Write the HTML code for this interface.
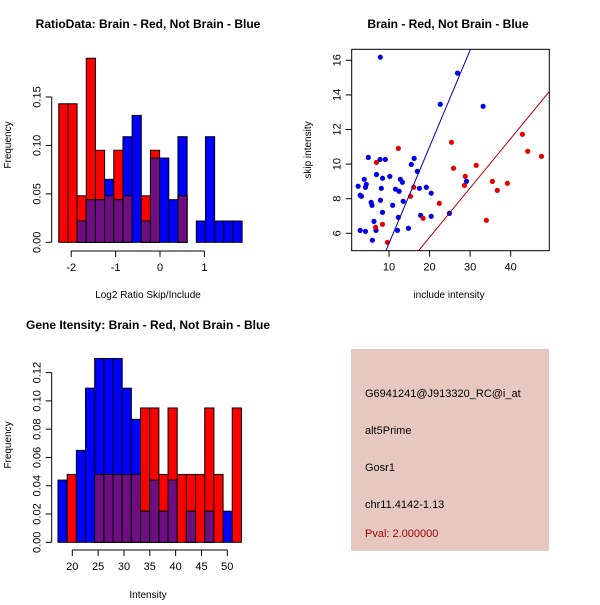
<!DOCTYPE html>
<html><head><meta charset="utf-8"><style>
body{margin:0;background:#fff;}
svg text{font-family:"Liberation Sans",sans-serif;}
</style></head><body>
<svg id="svg" width="600" height="600" xmlns="http://www.w3.org/2000/svg">
<rect width="600" height="600" fill="#fff"/>
<text x="148" y="28" font-size="12" font-weight="bold" text-anchor="middle">RatioData: Brain - Red, Not Brain - Blue</text>
<text x="448" y="28" font-size="12" font-weight="bold" text-anchor="middle">Brain - Red, Not Brain - Blue</text>
<text x="148" y="329" font-size="12" font-weight="bold" text-anchor="middle">Gene Itensity: Brain - Red, Not Brain - Blue</text>
<g id="p1"></g>
<g id="p2"></g>
<g id="p3"></g>
<g>
<rect x="351" y="349" width="198" height="202" fill="#e6c8c1"/>
<text x="365" y="397" font-size="11">G6941241@J913320_RC@i_at</text>
<text x="365" y="434" font-size="11">alt5Prime</text>
<text x="365" y="471" font-size="11">Gosr1</text>
<text x="365" y="508" font-size="11">chr11.4142-1.13</text>
<text x="365" y="537" font-size="11" fill="#a00000">Pval: 2.000000</text>
</g>
</svg>
<script>
// Ratio histogram data
const ratioBinStart = -2.28;
const ratioBinWidth = 0.2065;
const ratioRed  = [0.143,0.143,0.048,0.19,0.095,0.048,0.095,0.048,0,0.048,0.095,0,0,0.048,0,0,0,0,0,0];
const ratioBlue = [0,0,0.022,0.044,0.044,0.065,0.044,0.109,0.131,0.022,0.087,0.087,0.044,0.109,0,0.022,0.109,0.022,0.022,0.022];
const ratioXTicks = [-2,-1,0,1];
const ratioYTicks = ["0.00","0.05","0.10","0.15"];
// Intensity histogram data
const intBinStart = 17.23;
const intBinWidth = 1.775;
const intRed  = [0,0.048,0,0,0.048,0.048,0.048,0.048,0.048,0.095,0.095,0.048,0.095,0.048,0.048,0.048,0.095,0.048,0,0.095];
const intBlue = [0.044,0,0.065,0.109,0.13,0.13,0.13,0.109,0.087,0.022,0.044,0.022,0.044,0,0.022,0,0.022,0,0.022,0];
const intXTicks = [20,25,30,35,40,45,50];
const intYTicks = ["0.00","0.02","0.04","0.06","0.08","0.10","0.12"];
// Scatter data
const blueX = [7.86,26.9,22.65,33.2,4.9,7.8,9.1,16.2,15.5,16.98,6.9,10.2,3.9,8.4,12.8,13.3,4.4,4.2,2.4,8.1,11.6,12.5,17.5,19.2,20.4,2.9,3.2,7.9,5.6,5.8,10.9,13.5,8.4,17.8,20.4,12.3,24.9,29.1,6.3,6.8,2.9,4.2,12.1,14.8,5.9];
const blueY = [16.18,15.26,13.46,13.34,10.39,10.27,10.27,10.33,9.98,9.58,9.40,9.29,9.12,9.18,9.12,8.95,8.83,8.66,8.72,8.60,8.55,8.43,8.60,8.66,8.32,8.20,8.14,7.91,7.79,7.62,7.62,7.85,7.21,7.04,6.98,6.92,7.15,9.0,6.69,6.17,6.17,6.11,6.17,6.29,5.60];
const redX = [12.3,6.9,25.4,25.9,31.5,28.8,28.6,35.5,36.7,39.2,42.9,44.2,47.6,16.1,15.3,22.4,18.4,34.0,8.4,6.7,9.6];
const redY = [10.91,10.10,11.26,9.76,9.93,9.29,8.77,9.0,8.48,8.89,11.72,10.74,10.45,8.66,8.14,7.73,6.87,6.75,6.52,6.35,5.48];
const blueFit = [-0.17,0.5586];
const redFit = [0.06,0.2854];
const scXTicks = [10,20,30,40];
const scYTicks = [6,8,10,12,14,16];

const NS="http://www.w3.org/2000/svg";
function mk(parent,tag,attrs){const e=document.createElementNS(NS,tag);for(const k in attrs)e.setAttribute(k,attrs[k]);parent.appendChild(e);return e;}

function hist(g,opt){
  const sx=v=>opt.x0px+(v-opt.x0)*opt.kx;
  const sy=v=>opt.base-v*opt.ky;
  const n=opt.red.length;
  for(let i=0;i<n;i++){
    const a=opt.bs+i*opt.bw, b=a+opt.bw;
    const x=sx(a), w=sx(b)-sx(a);
    const r=opt.red[i], bl=opt.blue[i], m=Math.min(r,bl);
    if(r>0){const e=mk(g,'rect',{x:x,y:sy(r),width:w,height:sy(0)-sy(r),fill:'#ff0000',stroke:'#000','stroke-width':1});
      
      }
    if(bl>0){const e=mk(g,'rect',{x:x,y:sy(bl),width:w,height:sy(0)-sy(bl),fill:'#0000ff',stroke:'#000','stroke-width':1});
      
      }
    if(m>0){const e=mk(g,'rect',{x:x,y:sy(m),width:w,height:sy(0)-sy(m),fill:'#6e0e82',stroke:'#000','stroke-width':1});
      
      }
  }
  // y axis
  const yt=opt.yticks.map(Number);
  mk(g,'line',{x1:opt.yax,x2:opt.yax,y1:sy(yt[0]),y2:sy(yt[yt.length-1]),stroke:'#000'});
  opt.yticks.forEach(t=>{const y=sy(Number(t));
    mk(g,'line',{x1:opt.yax-6,x2:opt.yax,y1:y,y2:y,stroke:'#000'});
    const tx=mk(g,'text',{x:0,y:0,'font-size':11,'text-anchor':'middle',transform:`translate(${opt.yax-11},${y}) rotate(-90)`});
    tx.textContent=t;
    
    
  });
  // x axis
  const xt=opt.xticks;
  mk(g,'line',{x1:sx(xt[0]),x2:sx(xt[xt.length-1]),y1:opt.xax,y2:opt.xax,stroke:'#000'});
  xt.forEach(t=>{const x=sx(t);
    mk(g,'line',{x1:x,x2:x,y1:opt.xax,y2:opt.xax+6,stroke:'#000'});
    const tx=mk(g,'text',{x:x,y:opt.xax+20,'font-size':11,'text-anchor':'middle'});
    tx.textContent=t;
    
    
  });
  const xl=mk(g,'text',{x:opt.xlx,y:opt.xly,'font-size':10,'text-anchor':'middle'});xl.textContent=opt.xlabel;
  
  
  const yl=mk(g,'text',{x:0,y:0,'font-size':10,'text-anchor':'middle',transform:`translate(11,${opt.yly}) rotate(-90)`});yl.textContent='Frequency';
  
  
}

hist(document.getElementById('p1'),{red:ratioRed,blue:ratioBlue,bs:ratioBinStart,bw:ratioBinWidth,
  x0:0,x0px:160,kx:44.4,base:242.3,ky:968.7,yax:51.7,xax:251,xticks:ratioXTicks,yticks:ratioYTicks,
  xlabel:'Log2 Ratio Skip/Include',xlx:148,xly:298,yly:145});
hist(document.getElementById('p3'),{red:intRed,blue:intBlue,bs:intBinStart,bw:intBinWidth,
  x0:20,x0px:72.3,kx:5.167,base:542.3,ky:1414,yax:51.7,xax:550,xticks:intXTicks,yticks:intYTicks,
  xlabel:'Intensity',xlx:148,xly:598,yly:445});

// scatter
(function(){
  const g=document.getElementById('p2');
  const L=351.7,R=549.3,T=49.3,B=250.7;
  const sx=v=>389+(v-10)*4.056;
  const sy=v=>60.3+(16-v)*17.3;
  const clip=mk(g,'clipPath',{id:'sc'});mk(clip,'rect',{x:L,y:T,width:R-L,height:B-T});
  const pts=mk(g,'g',{'clip-path':'url(#sc)'});
  blueX.forEach((x,i)=>{const c=mk(pts,'circle',{cx:sx(x),cy:sy(blueY[i]),r:2.6,fill:'#0000e6'});
    
    });
  redX.forEach((x,i)=>{const c=mk(pts,'circle',{cx:sx(x),cy:sy(redY[i]),r:2.6,fill:'#e60000'});
    
    });
  const xa=0,xb=60;
  const bl=mk(pts,'line',{x1:sx(xa),y1:sy(blueFit[0]+blueFit[1]*xa),x2:sx(xb),y2:sy(blueFit[0]+blueFit[1]*xb),stroke:'#0000b0'});
  
  
  const rl=mk(pts,'line',{x1:sx(xa),y1:sy(redFit[0]+redFit[1]*xa),x2:sx(xb),y2:sy(redFit[0]+redFit[1]*xb),stroke:'#b00000'});
  
  
  mk(g,'rect',{x:L,y:T,width:R-L,height:B-T,fill:'none',stroke:'#000'});
  scXTicks.forEach(t=>{const x=sx(t);mk(g,'line',{x1:x,x2:x,y1:B,y2:B+6,stroke:'#000'});
    const tx=mk(g,'text',{x:x,y:B+20,'font-size':11,'text-anchor':'middle'});tx.textContent=t;
    
    });
  scYTicks.forEach(t=>{const y=sy(t);mk(g,'line',{x1:L-6,x2:L,y1:y,y2:y,stroke:'#000'});
    const tx=mk(g,'text',{x:0,y:0,'font-size':11,'text-anchor':'middle',transform:`translate(${L-11},${y}) rotate(-90)`});tx.textContent=t;
    
    });
  const xl=mk(g,'text',{x:449,y:298,'font-size':10,'text-anchor':'middle'});xl.textContent='include intensity';
  
  
  const yl=mk(g,'text',{x:0,y:0,'font-size':10,'text-anchor':'middle',transform:'translate(311,150) rotate(-90)'});yl.textContent='skip intensity';
  
  
})();
</script>
</body></html>
